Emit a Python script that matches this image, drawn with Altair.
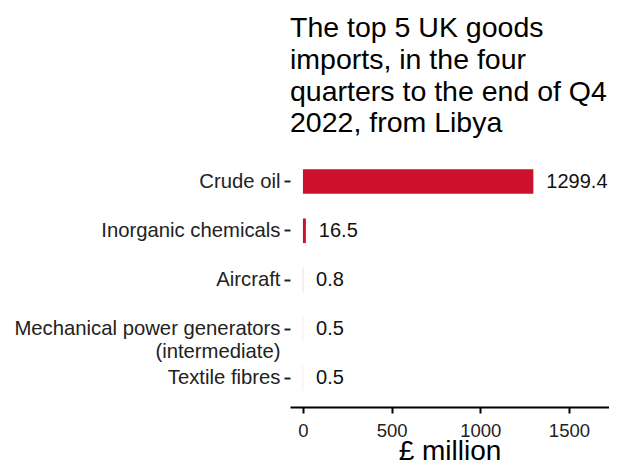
import altair as alt
import pandas as pd

categories = ["Crude oil", "Inorganic chemicals", "Aircraft",
              "Mechanical power generators\n(intermediate)", "Textile fibres"]
values = [1299.4, 16.5, 0.8, 0.5, 0.5]
labels = ["1299.4", "16.5", "0.8", "0.5", "0.5"]
title_lines = ["The top 5 UK goods", "imports, in the four",
               "quarters to the end of Q4", "2022, from Libya"]
x_ticks = [0, 500, 1000, 1500]

df = pd.DataFrame({"category": categories, "value": values, "label": labels})

FONT = "Liberation Sans"
x = alt.X("value:Q",
          scale=alt.Scale(domain=[-73, 1726], nice=False, zero=False),
          axis=alt.Axis(title="£ million", values=x_ticks, grid=False,
                        format="d",
                        domain=True, domainColor="#000", domainWidth=2,
                        tickColor="#000", tickWidth=2, tickSize=6,
                        labelFontSize=18.5, labelColor="#222", labelPadding=8,
                        titleFontSize=28, titleFontWeight="normal",
                        titleColor="#000", titlePadding=-2, labelFont=FONT,
                        titleFont=FONT))
y = alt.Y("category:N", sort=categories,
          scale=alt.Scale(paddingInner=0.5, paddingOuter=0.33),
          axis=alt.Axis(title=None, domain=False, tickColor="#222",
                        tickWidth=2, tickSize=6, labelFontSize=20.3,
                        labelColor="#222", labelPadding=4, labelFont=FONT,
                        labelLineHeight=23, labelLimit=400,
                        labelExpr="split(datum.label, '\\n')"))

bars = alt.Chart(df).mark_bar(color="#CF102D").encode(x=x, y=y)
text = alt.Chart(df).mark_text(align="left", baseline="middle", dx=13,
                               fontSize=20, font=FONT, color="#111").encode(
    x="value:Q", y=alt.Y("category:N", sort=categories), text="label:N")

chart = alt.layer(bars, text).properties(
    width=319, height=254,
    title=alt.TitleParams(text=title_lines, anchor="start", frame="group",
                          fontSize=28.5, fontWeight="normal", font=FONT,
                          lineHeight=31.7, color="#000", offset=15),
    autosize=alt.AutoSizeParams(type="none"),
    padding={"left": 282, "top": 145, "right": 0, "bottom": 58},
).configure_view(stroke=None)

chart.save("out.html", embed_options={"renderer": "svg", "actions": False})
